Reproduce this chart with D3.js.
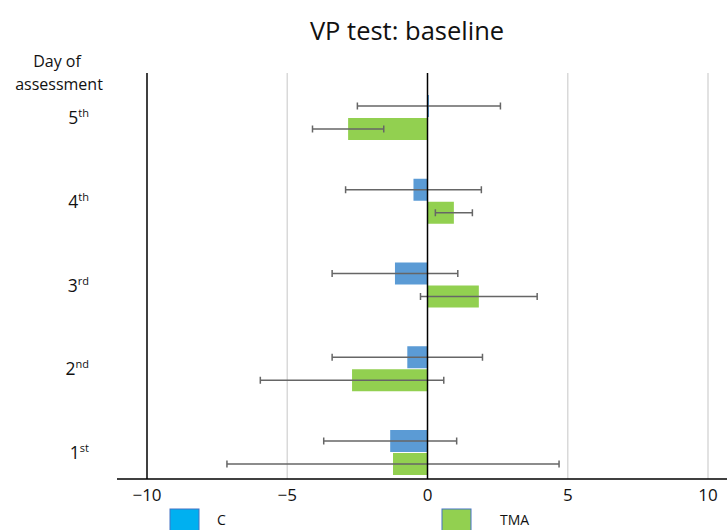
<!DOCTYPE html>
<html><head><meta charset="utf-8">
<script src="https://cdn.jsdelivr.net/npm/d3@7"></script>
<style>body{margin:0;background:#fff}svg{display:block;font-family:"Open Sans",sans-serif}</style>
</head><body><svg id="c" width="727" height="530"></svg>
<script>
const days = ["5", "4", "3", "2", "1"];
const daySup = ["th", "th", "rd", "nd", "st"];
const cMean = [0.05, -0.5, -1.16, -0.72, -1.33];
const cErr = [2.55, 2.42, 2.24, 2.68, 2.37];
const tmaMean = [-2.83, 0.94, 1.83, -2.69, -1.23];
const tmaErr = [1.27, 0.66, 2.08, 3.27, 5.92];
const xTicks = [-10, -5, 0, 5, 10];
const seriesNames = ["C", "TMA"];

const svg = d3.select("#c");
const x = d3.scaleLinear().domain([-10, 10]).range([147, 708]);
const y = d3.scalePoint().domain(days).range([118, 453]);
const plotTop = 73, plotBottom = 479, barH = 22;

// gridlines
svg.append("g").selectAll("line").data([-5, 5, 10]).join("line")
  .attr("x1", d => x(d)).attr("x2", d => x(d)).attr("y1", plotTop).attr("y2", plotBottom)
  .attr("stroke", "#d9d9d9").attr("stroke-width", 1.5);
svg.append("line").attr("x1", x(-10)).attr("x2", x(-10)).attr("y1", plotTop).attr("y2", plotBottom)
  .attr("stroke", "#000").attr("stroke-width", 1.5);

// title
svg.append("text").attr("x", 407).attr("y", 40).attr("text-anchor", "middle")
  .attr("font-size", 25.5).attr("fill", "#111").text("VP test: baseline");

// y title
svg.append("text").attr("x", 57).attr("y", 67).attr("text-anchor", "middle").attr("font-size", 16).attr("fill", "#111").text("Day of");
svg.append("text").attr("x", 59).attr("y", 90).attr("text-anchor", "middle").attr("font-size", 16).attr("fill", "#111").text("assessment");

// y labels
const yl = svg.append("g").selectAll("text").data(days).join("text")
  .attr("x", 89).attr("y", d => y(d) + 6).attr("text-anchor", "end").attr("font-size", 17.5).attr("fill", "#111");
yl.append("tspan").text(d => d);
yl.append("tspan").attr("font-size", 11).attr("dy", -7).text((d, i) => daySup[i]);

// bars
function series(means, errs, off, color) {
  const g = svg.append("g");
  g.selectAll("rect").data(means).join("rect")
    .attr("x", d => Math.min(x(0), x(d))).attr("width", d => Math.max(1.5, Math.abs(x(d) - x(0))))
    .attr("y", (d, i) => y(days[i]) + off).attr("height", barH).attr("fill", color);
  const e = g.selectAll("g").data(means).join("g").attr("stroke", "#666").attr("stroke-width", 1.5);
  e.append("line").attr("x1", (d, i) => x(d - errs[i])).attr("x2", (d, i) => x(d + errs[i]))
    .attr("y1", (d, i) => y(days[i]) + off + barH / 2).attr("y2", (d, i) => y(days[i]) + off + barH / 2);
  e.append("line").attr("x1", (d, i) => x(d - errs[i])).attr("x2", (d, i) => x(d - errs[i]))
    .attr("y1", (d, i) => y(days[i]) + off + barH / 2 - 3.5).attr("y2", (d, i) => y(days[i]) + off + barH / 2 + 3.5);
  e.append("line").attr("x1", (d, i) => x(d + errs[i])).attr("x2", (d, i) => x(d + errs[i]))
    .attr("y1", (d, i) => y(days[i]) + off + barH / 2 - 3.5).attr("y2", (d, i) => y(days[i]) + off + barH / 2 + 3.5);
}
series(cMean, cErr, -23, "#5b9bd5");
series(tmaMean, tmaErr, 0, "#92d050");

// zero line
svg.append("line").attr("x1", x(0)).attr("x2", x(0)).attr("y1", plotTop).attr("y2", plotBottom)
  .attr("stroke", "#000").attr("stroke-width", 1.5);

// x axis
svg.append("line").attr("x1", 117).attr("x2", 727).attr("y1", plotBottom).attr("y2", plotBottom)
  .attr("stroke", "#000").attr("stroke-width", 1.5);
svg.append("g").selectAll("text").data(xTicks).join("text")
  .attr("x", d => x(d)).attr("y", 501).attr("text-anchor", "middle").attr("font-size", 17).attr("fill", "#111")
  .text(d => d3.format("")(d).replace("-", "\u2212"));

// legend
const legColors = ["#00b0f0", "#92d050"];
const legX = [170, 442], legTX = [217, 500];
const lg = svg.append("g").selectAll("g").data(seriesNames).join("g");
lg.append("rect").attr("x", (d, i) => legX[i]).attr("y", 509).attr("width", 29).attr("height", 24)
  .attr("fill", (d, i) => legColors[i]).attr("stroke", "#4472c4").attr("stroke-width", 1);
lg.append("text").attr("x", (d, i) => legTX[i]).attr("y", 525).attr("font-size", 14).attr("fill", "#111").text(d => d);
</script></body></html>
